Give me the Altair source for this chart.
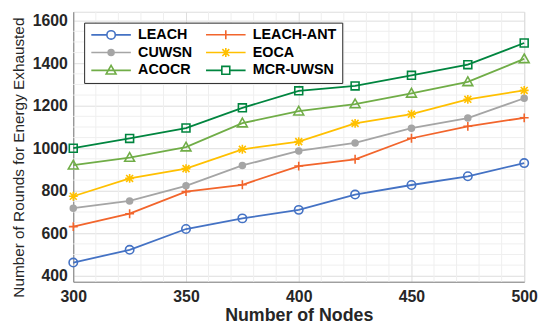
import altair as alt
import pandas as pd

nodes = [300, 325, 350, 375, 400, 425, 450, 475, 500]
methods = ["LEACH", "LEACH-ANT", "CUWSN", "EOCA", "ACOCR", "MCR-UWSN"]
leach = [462, 522, 620, 670, 710, 782, 827, 868, 930]
leach_ant = [631, 692, 796, 828, 916, 948, 1047, 1103, 1143]
cuwsn = [718, 752, 823, 919, 987, 1025, 1094, 1142, 1235]
eoca = [774, 858, 904, 995, 1031, 1117, 1160, 1230, 1272]
acocr = [920, 956, 1005, 1118, 1174, 1208, 1258, 1312, 1420]
mcr_uwsn = [1000, 1046, 1095, 1190, 1270, 1293, 1343, 1393, 1495]
series = [leach, leach_ant, cuwsn, eoca, acocr, mcr_uwsn]

colors = ["#4472C4", "#F2652C", "#A5A5A5", "#FFC000", "#70AD47", "#00853F"]

y_ticks = [400, 600, 800, 1000, 1200, 1400, 1600]
x_ticks = [300, 350, 400, 450, 500]
x_minor = [v for v in range(310, 500, 10) if v % 50 != 0]
y_minor = [v for v in range(450, 1600, 50) if v % 200 != 0]

circle = "M0.85,0A0.85,0.85,0,1,1,-0.85,0A0.85,0.85,0,1,1,0.85,0Z"
plus = "M-0.9,0L0.9,0M0,-0.9L0,0.9"
dot = ("M0.6,0A0.6,0.6,0,1,1,-0.6,0A0.6,0.6,0,1,1,0.6,0"
       "M0.35,0A0.35,0.35,0,1,1,-0.35,0A0.35,0.35,0,1,1,0.35,0"
       "M0.12,0A0.12,0.12,0,1,1,-0.12,0A0.12,0.12,0,1,1,0.12,0")
star = "M-0.7,-0.7L0.7,0.7M-0.7,0.7L0.7,-0.7M0,-0.9L0,0.9M-0.9,0L0.9,0"
tri = "M0,-1L1,0.75L-1,0.75Z"
square = "M-0.8,-0.8L0.8,-0.8L0.8,0.8L-0.8,0.8Z"
shapes = [circle, plus, dot, star, tri, square]
legend_shapes = [
    "M-4,0L-0.85,0M0.85,0L4,0" + circle,
    "M-4,0L4,0" + plus,
    "M-4,0L4,0" + dot,
    "M-4,0L4,0" + star,
    "M-4,0L4,0" + tri,
    "M-4,0L-0.8,0M0.8,0L4,0" + square,
]

rows = []
for m, vals in zip(methods, series):
    for n, v in zip(nodes, vals):
        rows.append({"nodes": n, "rounds": v, "method": m, "empty": None})
df = pd.DataFrame(rows)

xs = alt.Scale(domain=[300, 500], nice=False, zero=False)
ys = alt.Scale(domain=[372, 1642], nice=False, zero=False)

x_axis = alt.Axis(values=x_ticks, format="d", labelFont="Liberation Sans", labelFontSize=16,
                  labelFontWeight="bold", labelColor="#262626", labelPadding=7, labelFlush=False,
                  labelOverlap=False, ticks=False, domainColor="#808080", gridColor="#dedede",
                  title="Number of Nodes", titleFont="Liberation Sans", titleFontSize=18,
                  titleFontWeight="bold", titleColor="#262626", titleBaseline="alphabetic",
                  titleY=39, titleX=228)
y_axis = alt.Axis(values=y_ticks, format="d", labelFont="Liberation Sans", labelFontSize=16,
                  labelFontWeight="bold", labelColor="#262626", labelPadding=6, labelFlush=False,
                  labelOverlap=False, ticks=False, domainColor="#808080", gridColor="#dedede",
                  title="Number of Rounds for Energy Exhausted", titleFont="Liberation Sans",
                  titleFontSize=15.5, titleFontWeight="normal", titleColor="#262626",
                  titleBaseline="alphabetic", titleX=-50, titleY=147)

color_nolegend = alt.Color("method:N", scale=alt.Scale(domain=methods, range=colors), legend=None)

xminor = alt.Chart(pd.DataFrame({"v": x_minor})).mark_rule(color="#efefef", strokeWidth=1).encode(
    x=alt.X("v:Q", scale=xs, axis=x_axis))
yminor = alt.Chart(pd.DataFrame({"v": y_minor})).mark_rule(color="#efefef", strokeWidth=1).encode(
    y=alt.Y("v:Q", scale=ys, axis=y_axis))

base = alt.Chart(df)
lines = base.mark_line(strokeWidth=1.8).encode(
    x=alt.X("nodes:Q", scale=xs, axis=x_axis),
    y=alt.Y("rounds:Q", scale=ys, axis=y_axis),
    color=color_nolegend,
    detail="method:N",
)
points = base.mark_point(filled=False, size=100, strokeWidth=1.6, opacity=1).encode(
    x=alt.X("nodes:Q", scale=xs),
    y=alt.Y("rounds:Q", scale=ys),
    color=color_nolegend,
    shape=alt.Shape("method:N", scale=alt.Scale(domain=methods, range=shapes), legend=None),
)

legend = alt.Legend(
    title=None, orient="none", legendX=11, legendY=11, columns=2, direction="horizontal",
    labelFont="Liberation Sans", labelFontSize=14.5, labelFontWeight="bold", labelColor="#000000",
    symbolSize=100, symbolStrokeWidth=1.6, symbolOffset=15, labelOffset=20,
    columnPadding=10, rowPadding=2, padding=5, strokeColor="#262626", fillColor="white",
    symbolType="circle", labelLimit=200,
)
legend_layer = base.mark_point(filled=False, size=100, strokeWidth=1.6, opacity=1, invalid="filter").encode(
    x=alt.X("nodes:Q", scale=xs),
    y=alt.Y("empty:Q", scale=ys),
    color=alt.Color("method:N", scale=alt.Scale(domain=methods, range=colors), legend=legend),
    shape=alt.Shape("method:N", scale=alt.Scale(domain=methods, range=legend_shapes), legend=legend),
)

chart = alt.layer(xminor, yminor, lines, points, legend_layer).resolve_scale(
    color="independent", shape="independent"
).properties(
    width=456, height=273,
    autosize=alt.AutoSizeParams(type="none"),
    padding={"left": 66, "top": 2, "right": 18, "bottom": 45},
).configure_view(stroke="#808080", strokeWidth=1).configure(background="white")

chart.save("out.html", embed_options={"renderer": "svg", "actions": False})
